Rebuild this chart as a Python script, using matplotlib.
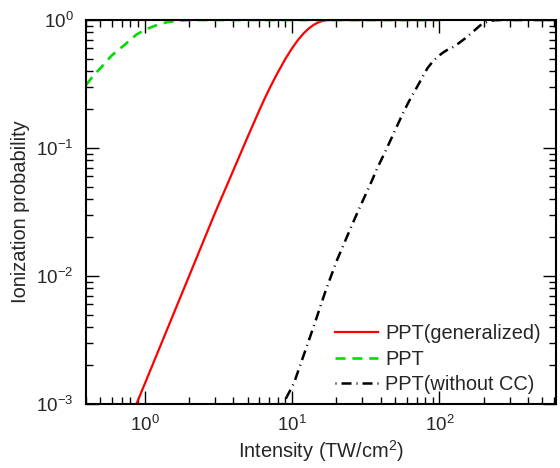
import matplotlib
matplotlib.use("Agg")
import matplotlib.pyplot as plt
from matplotlib.ticker import LogLocator, NullFormatter

# PPT (generalized) - red solid
gen_I = [0.88, 1.0, 1.25, 1.5, 2.0, 2.5, 3.0, 4.0, 5.0, 6.0, 6.5, 7.0, 7.5, 8.0, 9.0, 10.0, 11.0, 12.0,
         13.0, 14.0, 15.0, 16.0, 17.0, 18.0, 20.0, 30.0, 100.0]
gen_P = [0.001, 0.00143, 0.00267, 0.00445, 0.00995, 0.0186, 0.031, 0.067, 0.122, 0.197, 0.241, 0.288,
         0.337, 0.388, 0.495, 0.601, 0.700, 0.787, 0.860, 0.916, 0.955, 0.981, 0.996, 0.999, 1.0, 1.0, 1.0]

# PPT - green dashed
ppt_I = [0.40, 0.45, 0.51, 0.55, 0.59, 0.65, 0.72, 0.80, 0.88, 1.0, 1.11, 1.25, 1.44, 1.65, 1.92, 2.3, 3.0, 100.0]
ppt_P = [0.31, 0.37, 0.43, 0.475, 0.52, 0.575, 0.63, 0.70, 0.77, 0.835, 0.88, 0.925, 0.965, 0.985,
         0.997, 1.0, 1.0, 1.0]

# PPT (without CC) - black dash-dot
wcc_I = [8.7, 10.3, 12.0, 14.0, 17.0, 20.2, 23.5, 27.0, 30.0, 34.0, 38.0, 43.0, 49.0, 56.0, 62.0,
         69.0, 76.0, 83.0, 91.0, 100.0, 108.0, 115.0, 124.0, 132.0, 150.0, 171.0, 190.0, 211.0, 235.0,
         260.0, 620.0]
wcc_P = [0.001, 0.00145, 0.0024, 0.0040, 0.0078, 0.0133, 0.020, 0.029, 0.038, 0.052, 0.070, 0.094,
         0.13, 0.182, 0.23, 0.286, 0.35, 0.42, 0.48, 0.53, 0.565, 0.59, 0.615, 0.645, 0.72, 0.82, 0.91,
         0.97, 0.995, 1.0, 1.0]

labels = ["PPT(generalized)", "PPT", "PPT(without CC)"]

plt.rcParams['font.family'] = ['Liberation Sans', 'DejaVu Sans']
plt.rcParams['mathtext.fontset'] = 'custom'
plt.rcParams['mathtext.rm'] = 'Liberation Sans'
txt = '#262626'

fig = plt.figure(figsize=(5.6, 4.68), dpi=100)
ax = fig.add_axes([0.1536, 0.1368, 0.8394, 0.8204])

ax.plot(gen_I, gen_P, color='#ff0000', lw=1.6, label=labels[0])
ax.plot(ppt_I, ppt_P, color='#00dd00', lw=1.9, linestyle=(0, (3.8, 2.6)), label=labels[1])
ax.plot(wcc_I, wcc_P, color='black', lw=1.8, linestyle=(6.0, (4, 2, 0.4, 2)), label=labels[2])

ax.set_xscale('log')
ax.set_yscale('log')
ax.set_xlim(0.4, 620)
ax.set_ylim(1e-3, 1)

ax.xaxis.set_major_locator(LogLocator(base=10, numticks=10))
ax.xaxis.set_minor_locator(LogLocator(base=10, subs=range(2, 10), numticks=20))
ax.yaxis.set_major_locator(LogLocator(base=10, numticks=10))
ax.yaxis.set_minor_locator(LogLocator(base=10, subs=range(2, 10), numticks=20))
ax.xaxis.set_minor_formatter(NullFormatter())
ax.yaxis.set_minor_formatter(NullFormatter())

ax.tick_params(which='both', direction='in', top=True, right=True, labelsize=13.5, labelcolor=txt)
ax.tick_params(which='major', length=9.5, width=1.0)
ax.tick_params(which='minor', length=4.8, width=1.0)
ax.tick_params(axis='x', which='major', pad=8)
ax.tick_params(axis='y', which='major', pad=9)
for s in ax.spines.values():
    s.set_linewidth(1.5)

ax.set_xlabel('Intensity (TW/cm$^2$)', fontsize=14.4, color=txt, labelpad=2)
ax.set_ylabel('Ionization probability', fontsize=14.4, color=txt, labelpad=4)

leg = ax.legend(loc='lower right', frameon=False, fontsize=14.4, handlelength=2.15,
                handletextpad=0.35, labelspacing=0.32, borderaxespad=0.0,
                bbox_to_anchor=(0.984, 0.005))
for t in leg.get_texts():
    t.set_color(txt)

fig.savefig('out.png', dpi=100)
